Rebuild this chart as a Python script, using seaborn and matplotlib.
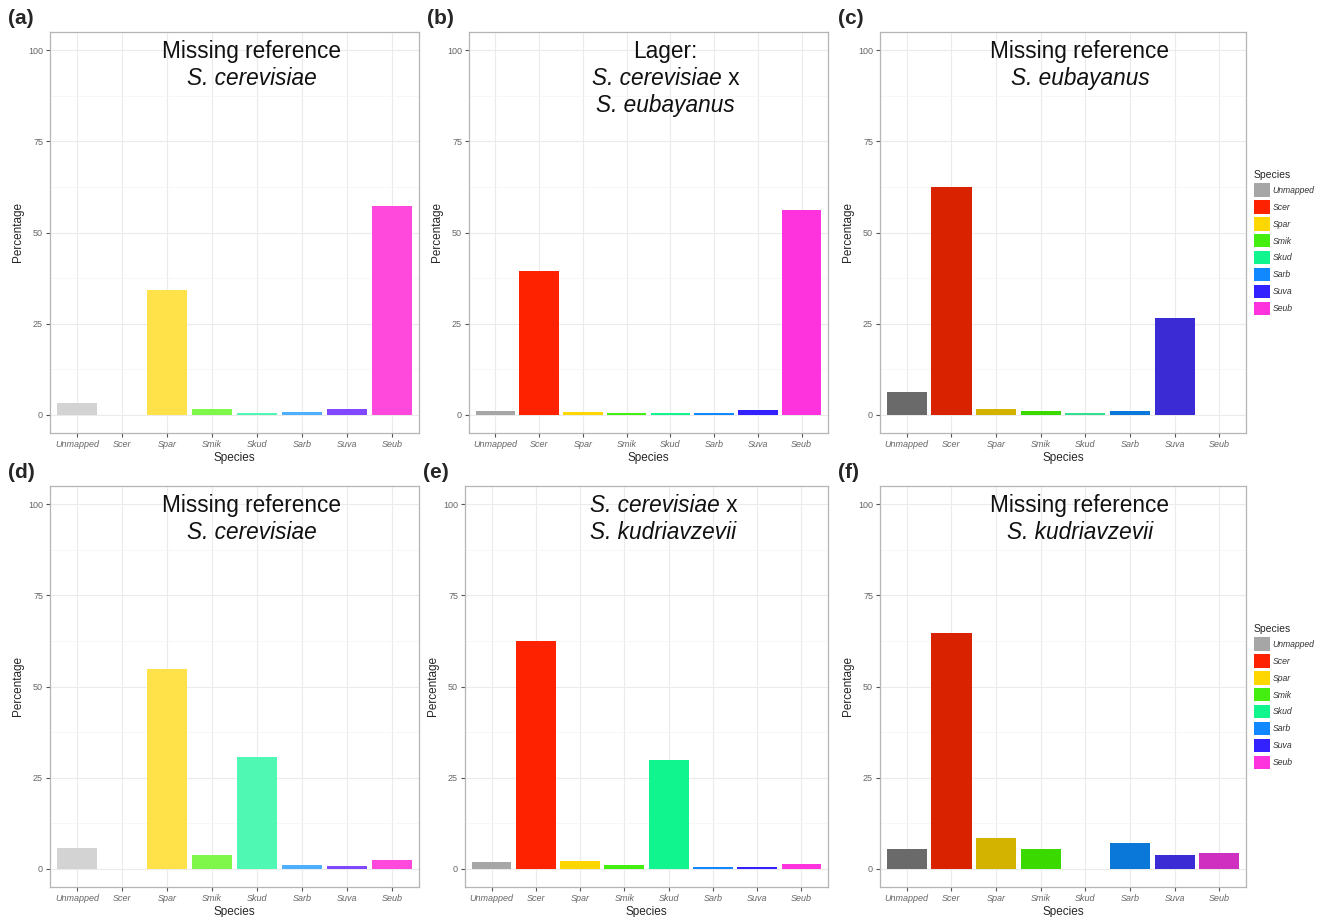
import numpy as np
import pandas as pd
import matplotlib
matplotlib.use("Agg")
import matplotlib.pyplot as plt
import matplotlib.transforms as mtransforms
import seaborn as sns
from matplotlib.patches import Patch

# Species order on the x axis
species = ["Unmapped", "Scer", "Spar", "Smik", "Skud", "Sarb", "Suva", "Seub"]

# Percentages
pct_a = [3.3, 0.0, 34.3, 1.6, 0.5, 0.8, 1.6, 57.2]
pct_b = [0.9, 39.5, 0.7, 0.5, 0.35, 0.4, 1.3, 56.3]
pct_c = [6.3, 62.5, 1.6, 1.0, 0.5, 1.0, 26.5, 0.0]
pct_d = [5.6, 0.0, 54.8, 3.8, 30.7, 1.1, 0.8, 2.3]
pct_e = [1.9, 62.4, 2.2, 1.1, 29.9, 0.35, 0.4, 1.4]
pct_f = [5.5, 64.8, 8.5, 5.3, 0.0, 7.2, 3.8, 4.2]

# colour shades used by the three columns
light = ["#D3D3D3", "#FF6A4D", "#FFE14A", "#7FF74A", "#4FF9B3", "#4DB0FF", "#8048FF", "#FF48DC"]
mid = ["#A6A6A6", "#FF2200", "#FFD700", "#44EE11", "#11F58F", "#1188FF", "#3322FF", "#FF33DD"]
dark = ["#6A6A6A", "#D92200", "#D4B300", "#3AD900", "#30E090", "#0A78D8", "#3A2BD4", "#D030C0"]

# title lines: (text, italic, trailing upright suffix)
panels = [
    ("a", pct_a, light, [("Missing reference", False, ""), ("S. cerevisiae", True, "")]),
    ("b", pct_b, mid, [("Lager:", False, ""), ("S. cerevisiae", True, " x"), ("S. eubayanus", True, "")]),
    ("c", pct_c, dark, [("Missing reference", False, ""), ("S. eubayanus", True, "")]),
    ("d", pct_d, light, [("Missing reference", False, ""), ("S. cerevisiae", True, "")]),
    ("e", pct_e, mid, [("S. cerevisiae", True, " x"), ("S. kudriavzevii", True, "")]),
    ("f", pct_f, dark, [("Missing reference", False, ""), ("S. kudriavzevii", True, "")]),
]

sns.set_theme(style="white")
plt.rcParams["font.family"] = ["Liberation Sans", "DejaVu Sans"]

W, H = 1319, 917
fig = plt.figure(figsize=(W / 100, H / 100), dpi=100)

# panel boxes in pixels: left, top, right, bottom
boxes = [
    (50, 32, 419, 433), (469, 32, 828, 433), (880, 32, 1246, 433),
    (50, 486, 419, 887), (465, 486, 828, 887), (880, 486, 1246, 887),
]

for (tag, vals, pal, title), (l, t, r, b) in zip(panels, boxes):
    ax = fig.add_axes([l / W, 1 - b / H, (r - l) / W, (b - t) / H])
    df = pd.DataFrame({"Species": species, "Percentage": vals})
    sns.barplot(data=df, x="Species", y="Percentage", hue="Species",
                palette=dict(zip(species, pal)), order=species, hue_order=species,
                width=0.9, legend=False, ax=ax, saturation=1, linewidth=0)
    ax.set_xlim(-0.6, 7.6)
    ax.set_ylim(-5, 105)
    ax.set_yticks([0, 25, 50, 75, 100])
    ax.set_yticks([12.5, 37.5, 62.5, 87.5], minor=True)
    ax.grid(True, which="major", color="#EBEBEB", lw=0.8)
    ax.grid(True, which="minor", axis="y", color="#F4F4F4", lw=0.5)
    ax.set_axisbelow(True)
    for s in ax.spines.values():
        s.set_color("#B5B5B5")
        s.set_linewidth(0.9)
    ax.tick_params(axis="both", which="major", length=3, width=0.8, color="#555555",
                   labelsize=6.5, labelcolor="#666666", pad=2, bottom=True, left=True)
    ax.tick_params(axis="both", which="minor", length=0)
    for lab in ax.get_xticklabels():
        lab.set_fontstyle("italic")
    ax.set_xlabel("Species", fontsize=8.5, labelpad=2)
    ax.set_ylabel("Percentage", fontsize=8.5, labelpad=3)

    # title lines inside the panel
    for i, (line, ital, suffix) in enumerate(title):
        y = 99.6 - 7.4 * i
        style = "italic" if ital else "normal"
        if suffix:
            tr = mtransforms.offset_copy(ax.transData, fig=fig, x=-6, y=0, units="points")
            t1 = ax.text(3.88, y, line, ha="center", va="center", fontsize=16.3,
                         color="#111111", fontstyle=style, transform=tr)
            ax.annotate(suffix, xy=(1, 0.5), xycoords=t1, ha="left", va="center",
                        fontsize=16.3, color="#111111")
        else:
            ax.text(3.88, y, line, ha="center", va="center", fontsize=16.3,
                    color="#111111", fontstyle=style)

    fig.text((l - 42) / W, 1 - (t - 14) / H, f"({tag})", fontsize=15, fontweight="bold",
             ha="left", va="center")

    if tag in ("c", "f"):
        handles = [Patch(facecolor=c, edgecolor="none") for c in mid]
        leg = ax.legend(handles, species, title="Species", loc="upper left",
                        bbox_to_anchor=(1.012, 0.665), frameon=False, fontsize=6.2,
                        title_fontsize=7.5, handlelength=1.85, handleheight=2.0,
                        handletextpad=0.35, labelspacing=0.42, borderaxespad=0)
        for txt in leg.get_texts():
            txt.set_fontstyle("italic")
            txt.set_color("#333333")
        leg._legend_box.align = "left"

fig.savefig("out.png", dpi=100, facecolor="white")
